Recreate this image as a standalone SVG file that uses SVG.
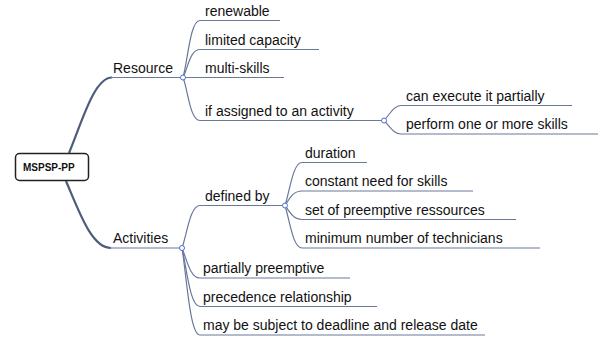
<svg xmlns="http://www.w3.org/2000/svg" width="603" height="340" viewBox="0 0 603 340">
<style>
.t{font-family:"Liberation Sans",Arial,sans-serif;font-size:14px;fill:#111}
.r{font-family:"Liberation Sans",Arial,sans-serif;font-size:10px;font-weight:bold;fill:#111}
.e{fill:none;stroke:#6a7899;stroke-width:1.2}
.m{fill:none;stroke:#4e5c7c;stroke-width:2.2}
.c{fill:#fff;stroke:#4a6fd0;stroke-width:1}
</style>
<rect width="603" height="340" fill="#fff"/>
<g id="connectors">
<path class="m" d="M69,153 C82,122 94,77.5 112,77.5"/>
<path class="e" d="M111,77.5 H183"/>
<path class="m" d="M66,181 C80,214 92,248 111,248"/>
<path class="e" d="M110,248 H182"/>
<path class="e" d="M183,77.5 C188,60 190,20.5 200,20.5 H280"/>
<path class="e" d="M183,77.5 C188,68 190,49.5 200,49.5 H319"/>
<path class="e" d="M183,77.5 H284"/>
<path class="e" d="M183,77.5 C188,90 190,120.5 200,120.5 H384"/>
<path class="e" d="M384,120.5 C390,114 394,105.5 401,105.5 H572"/>
<path class="e" d="M384,120.5 C390,127 394,134 401,134 H598"/>
<path class="e" d="M182,248 C187,234 190,205.5 200,205.5 H285"/>
<path class="e" d="M182,248 C187,260 190,278 200,278 H350"/>
<path class="e" d="M182,248 C187,270 190,306.5 200,306.5 H377"/>
<path class="e" d="M182,248 C187,280 190,335 200,335 H485"/>
<path class="e" d="M285,205.5 C290,190 293,162.5 302,162.5 H367"/>
<path class="e" d="M285,205.5 C290,198 293,191 302,191 H473"/>
<path class="e" d="M285,205.5 C290,212 293,219.5 302,219.5 H516"/>
<path class="e" d="M285,205.5 C290,222 293,248 302,248 H540"/>
<circle class="c" cx="183" cy="77.5" r="2.5"/>
<circle class="c" cx="384" cy="120.5" r="2.5"/>
<circle class="c" cx="182" cy="248" r="2.5"/>
<circle class="c" cx="285" cy="205.5" r="2.5"/>
</g>
<g id="root">
<rect x="15.5" y="153.5" width="73" height="27" rx="4" fill="#fff" stroke="#222" stroke-width="1.5"/>
<text class="r" x="23" y="170.5">MSPSP-PP</text>
</g>
<g id="resource"><text class="t" x="113" y="72.5">Resource</text></g>
<g id="renewable"><text class="t" x="205" y="15.5">renewable</text></g>
<g id="limited"><text class="t" x="205" y="44.5">limited capacity</text></g>
<g id="multiskills"><text class="t" x="205" y="72.5">multi-skills</text></g>
<g id="assigned"><text class="t" x="205" y="115.5">if assigned to an activity</text></g>
<g id="execute"><text class="t" x="406" y="100.5">can execute it partially</text></g>
<g id="perform"><text class="t" x="406" y="129">perform one or more skills</text></g>
<g id="activities"><text class="t" x="113" y="243">Activities</text></g>
<g id="definedby"><text class="t" x="205" y="200.5">defined by</text></g>
<g id="duration"><text class="t" x="305" y="157.5">duration</text></g>
<g id="constant"><text class="t" x="305" y="186">constant need for skills</text></g>
<g id="setpre"><text class="t" x="305" y="214.5">set of preemptive ressources</text></g>
<g id="minimum"><text class="t" x="305" y="243">minimum number of technicians</text></g>
<g id="partially"><text class="t" x="203" y="273">partially preemptive</text></g>
<g id="precedence"><text class="t" x="203" y="301.5">precedence relationship</text></g>
<g id="deadline"><text class="t" x="203" y="330">may be subject to deadline and release date</text></g>
</svg>
